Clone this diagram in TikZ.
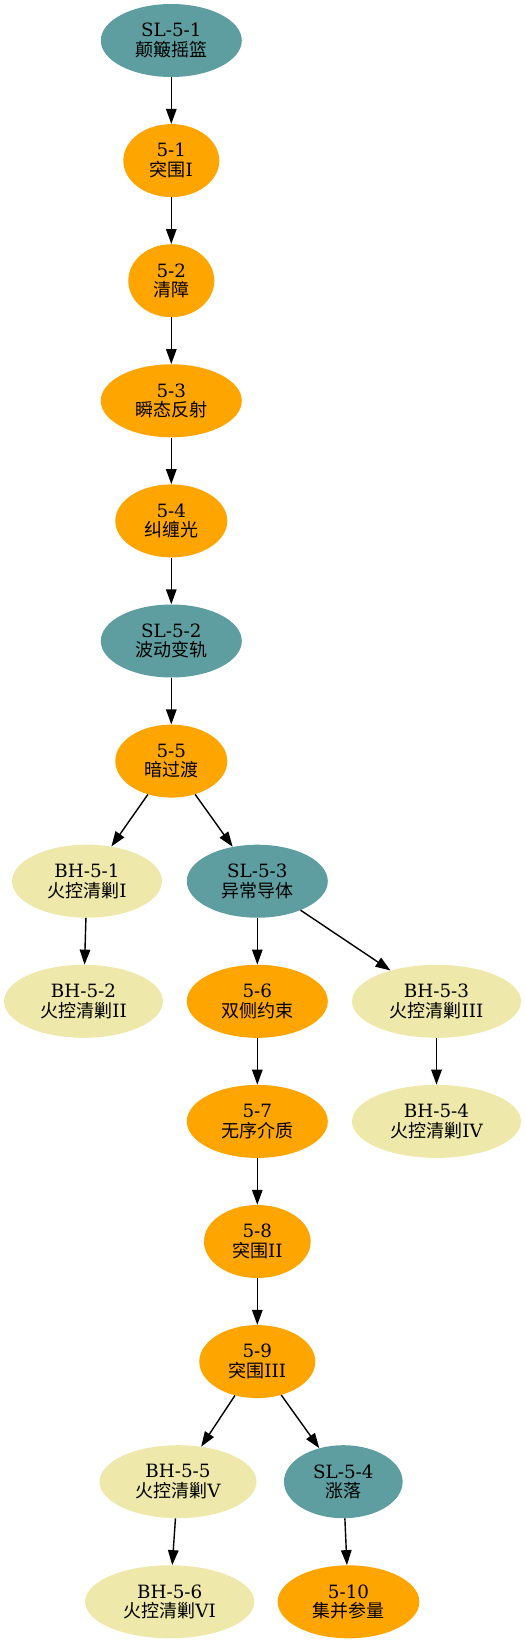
\documentclass[tikz,border=0pt]{standalone}
\usepackage{fontspec}
\setmainfont{DejaVu Serif}
\newfontfamily\cjk{Noto Sans CJK SC}
\usetikzlibrary{shapes.geometric,arrows.meta}
\definecolor{slcol}{HTML}{5F9EA0}
\definecolor{mncol}{HTML}{FFA500}
\definecolor{bhcol}{HTML}{EEE8AA}
\newcommand{\zh}[1]{{\cjk\fontsize{18}{19.5}\selectfont #1}}
\begin{document}
\begin{tikzpicture}[x=1pt,y=-1pt,
  nd/.style={ellipse, inner sep=0pt, minimum height=73pt, align=center, text=black,
    font=\fontsize{18.3}{19.5}\selectfont},
  slnode/.style={nd, fill=slcol},
  mnnode/.style={nd, fill=mncol},
  bhnode/.style={nd, fill=bhcol},
  conn/.style={line width=1.4pt, draw=black, -{Triangle[length=15pt,width=10.5pt]}}
]
\useasboundingbox (0,0) rectangle (526,1643);

\node[slnode, minimum width=141pt] (sl1) at (171.3,40.5) {SL-5-1\\\zh{颠簸摇篮}};
\node[mnnode, minimum width=96pt]  (n1)  at (171.3,160.6) {5-1\\\zh{突围}I};
\node[mnnode, minimum width=86pt]  (n2)  at (171.3,280.7) {5-2\\\zh{清障}};
\node[mnnode, minimum width=141pt] (n3)  at (171.3,400.8) {5-3\\\zh{瞬态反射}};
\node[mnnode, minimum width=112pt] (n4)  at (171.3,520.9) {5-4\\\zh{纠缠光}};
\node[slnode, minimum width=141pt] (sl2) at (171.3,641.0) {SL-5-2\\\zh{波动变轨}};
\node[mnnode, minimum width=112pt] (n5)  at (171.3,761.1) {5-5\\\zh{暗过渡}};

\node[bhnode, minimum width=150pt] (bh1) at (87,881.2) {BH-5-1\\\zh{火控清剿}I};
\node[slnode, minimum width=141pt] (sl3) at (257.3,881.2) {SL-5-3\\\zh{异常导体}};

\node[bhnode, minimum width=159pt] (bh2) at (83.5,1001.3) {BH-5-2\\\zh{火控清剿}II};
\node[mnnode, minimum width=141pt] (n6)  at (257.3,1001.3) {5-6\\\zh{双侧约束}};
\node[bhnode, minimum width=169pt] (bh3) at (436.5,1001.3) {BH-5-3\\\zh{火控清剿}III};

\node[mnnode, minimum width=141pt] (n7)  at (257.3,1121.4) {5-7\\\zh{无序介质}};
\node[bhnode, minimum width=169pt] (bh4) at (436.5,1121.4) {BH-5-4\\\zh{火控清剿}IV};

\node[mnnode, minimum width=106.7pt] (n8) at (257.3,1241.5) {5-8\\\zh{突围}II};
\node[mnnode, minimum width=116pt]   (n9) at (257.3,1361.6) {5-9\\\zh{突围}III};

\node[bhnode, minimum width=157pt]   (bh5) at (178,1481.7) {BH-5-5\\\zh{火控清剿}V};
\node[slnode, minimum width=118.7pt] (sl4) at (343.3,1481.7) {SL-5-4\\\zh{涨落}};

\node[bhnode, minimum width=169.3pt] (bh6) at (169.7,1601.8) {BH-5-6\\\zh{火控清剿}VI};
\node[mnnode, minimum width=141.7pt] (n10) at (348.5,1601.8) {5-10\\\zh{集并参量}};

\draw[conn] (sl1) -- (n1);
\draw[conn] (n1) -- (n2);
\draw[conn] (n2) -- (n3);
\draw[conn] (n3) -- (n4);
\draw[conn] (n4) -- (sl2);
\draw[conn] (sl2) -- (n5);
\draw[conn] (n5) -- (bh1);
\draw[conn] (n5) -- (sl3);
\draw[conn] (bh1) -- (bh2);
\draw[conn] (sl3) -- (n6);
\draw[conn] (sl3) -- (bh3);
\draw[conn] (n6) -- (n7);
\draw[conn] (bh3) -- (bh4);
\draw[conn] (n7) -- (n8);
\draw[conn] (n8) -- (n9);
\draw[conn] (n9) -- (bh5);
\draw[conn] (n9) -- (sl4);
\draw[conn] (bh5) -- (bh6);
\draw[conn] (sl4) -- (n10);
\end{tikzpicture}
\end{document}
